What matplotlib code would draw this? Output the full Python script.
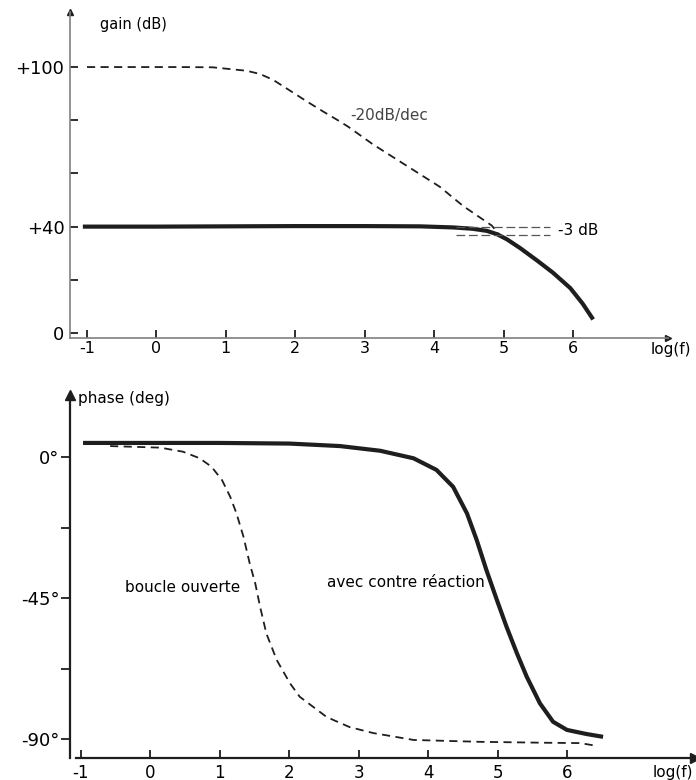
import matplotlib
matplotlib.use("Agg")
import matplotlib.pyplot as plt

# gain plot (dB vs log f)
gain_ol_x = [-1.0, 0.34, 0.81, 1.30, 1.49, 1.68, 1.92, 2.17, 2.40, 2.60, 2.76,
             3.12, 4.08, 4.42, 4.83, 4.95]
gain_ol_y = [100, 100, 99.9, 98.6, 97.4, 95.2, 91.2, 87.0, 83.3, 80.2, 77.6,
             70.9, 55, 47.7, 40.4, 36.5]
gain_cl_x = [-1.06, 0.0, 2.0, 3.0, 3.80, 4.27, 4.55, 4.76, 4.91, 5.05, 5.24,
             5.48, 5.71, 5.96, 6.14, 6.29]
gain_cl_y = [40, 40, 40.2, 40.2, 40.1, 39.7, 39.2, 38.4, 37.1, 35.2, 31.9,
             27.3, 22.7, 16.9, 11.0, 5.1]
cut_x = [4.31, 5.67]
cut_levels = [40, 37]
gain_ticks = [0, 20, 40, 60, 80, 100]
gain_labels = ["0", "", "+40", "", "", "+100"]

# phase plot (deg vs log f)
ph_ol_x = [-0.58, 0.14, 0.47, 0.71, 0.88, 1.03, 1.15, 1.24, 1.34, 1.43, 1.51,
           1.58, 1.67, 1.82, 2.01, 2.15, 2.54, 2.87, 3.21, 3.79, 4.75, 5.71,
           6.19, 6.43]
ph_ol_y = [3.5, 3.0, 1.7, -0.4, -3.1, -7.3, -12.7, -18.0, -25.4, -33.9, -40.3,
           -47.8, -56.3, -64.8, -72.2, -76.5, -83.0, -86.2, -88.1, -90.3, -90.9,
           -91.2, -91.3, -92.2]
ph_cl_x = [-0.97, 1.0, 2.0, 2.73, 3.31, 3.79, 4.12, 4.36, 4.56, 4.70, 4.84,
           4.99, 5.13, 5.28, 5.42, 5.61, 5.80, 6.0, 6.28, 6.52]
ph_cl_y = [4.5, 4.5, 4.3, 3.5, 2.0, -0.4, -4.1, -9.5, -18.0, -26.5, -36.1,
           -45.6, -54.2, -62.7, -70.1, -78.6, -84.5, -87.1, -88.4, -89.3]
phase_ticks = [0, -22.5, -45, -67.5, -90]
phase_labels = ["0°", "", "-45°", "", "-90°"]

decades = [-1, 0, 1, 2, 3, 4, 5, 6]

W, H = 696, 780
fig = plt.figure(figsize=(W / 100, H / 100), dpi=100)
ink = "#1e1e1e"

# ---------- top: gain ----------
ax1 = fig.add_axes([70 / W, 1 - 338 / H, (668 - 70) / W, (338 - 12) / H])
ax1.set_xlim(-1.245, 7.368)
ax1.set_ylim(-1.88, 120.7)
for s in ["top", "right"]:
    ax1.spines[s].set_visible(False)
for s in ["left", "bottom"]:
    ax1.spines[s].set_color("#808080")
    ax1.spines[s].set_linewidth(1.2)
ax1.plot(gain_ol_x, gain_ol_y, color=ink, lw=1.3, ls=(0, (4.5, 3)))
ax1.plot(gain_cl_x, gain_cl_y, color=ink, lw=3.0, solid_capstyle="butt",
         solid_joinstyle="round")
for lvl in cut_levels:
    ax1.plot(cut_x, [lvl, lvl], color="#555555", lw=0.9, ls=(0, (7, 3)))
ax1.set_xticks(decades)
ax1.set_xticklabels([str(d) for d in decades], fontsize=11.5)
ax1.set_yticks(gain_ticks)
ax1.set_yticklabels(gain_labels, fontsize=13)
ax1.tick_params(axis="y", direction="in", length=6, width=1.3, color=ink, pad=4)
ax1.tick_params(axis="x", direction="in", length=6, width=1.3, color=ink, pad=2)
ax1.plot(0, 1, "^", color=ink, ms=4, transform=ax1.transAxes, clip_on=False)
ax1.plot(1, 0, ">", color=ink, ms=4, transform=ax1.transAxes, clip_on=False)
ax1.text(100 / W, 1 - 25 / H, "gain (dB)", transform=fig.transFigure,
         fontsize=10.5, va="center", ha="left")
ax1.text(2.79, 81.7, "-20dB/dec", fontsize=11, color="#444444", va="center")
ax1.text(5.78, 38.5, "-3 dB", fontsize=11, va="center")
ax1.text(671 / W, 1 - 350 / H, "log(f)", transform=fig.transFigure,
         fontsize=11, va="center", ha="center")

# ---------- bottom: phase ----------
ax2 = fig.add_axes([70 / W, 1 - 758 / H, (695 - 70) / W, (758 - 395) / H])
ax2.set_xlim(-1.158, 7.844)
ax2.set_ylim(-96.06, 19.8)
for s in ["top", "right"]:
    ax2.spines[s].set_visible(False)
for s in ["left", "bottom"]:
    ax2.spines[s].set_color(ink)
    ax2.spines[s].set_linewidth(1.6)
ax2.spines["bottom"].set_bounds(-1.07, 7.844)
ax2.plot(ph_ol_x, ph_ol_y, color=ink, lw=1.3, ls=(0, (4.5, 3)))
ax2.plot(ph_cl_x, ph_cl_y, color=ink, lw=3.0, solid_capstyle="butt",
         solid_joinstyle="round")
ax2.set_xticks(decades)
ax2.set_xticklabels([str(d) for d in decades], fontsize=12)
ax2.set_yticks(phase_ticks)
ax2.set_yticklabels(phase_labels, fontsize=13)
ax2.tick_params(axis="y", direction="out", length=6.5, width=1.3, color=ink, pad=1)
ax2.tick_params(axis="x", direction="in", length=6, width=1.3, color=ink, pad=4)
ax2.plot(0, 1, "^", color=ink, ms=7, transform=ax2.transAxes, clip_on=False)
ax2.plot(1, 0, ">", color=ink, ms=7, transform=ax2.transAxes, clip_on=False)
ax2.text(78 / W, 1 - 398 / H, "phase (deg)", transform=fig.transFigure,
         fontsize=11, va="center", ha="left")
ax2.text(-0.37, -41.5, "boucle ouverte", fontsize=11, va="center", ha="left")
ax2.text(4.82, -40.2, "avec contre réaction", fontsize=11, va="center", ha="right")
ax2.text(673 / W, 1 - 772 / H, "log(f)", transform=fig.transFigure,
         fontsize=11, va="center", ha="center")

fig.savefig("out.png", dpi=100)
